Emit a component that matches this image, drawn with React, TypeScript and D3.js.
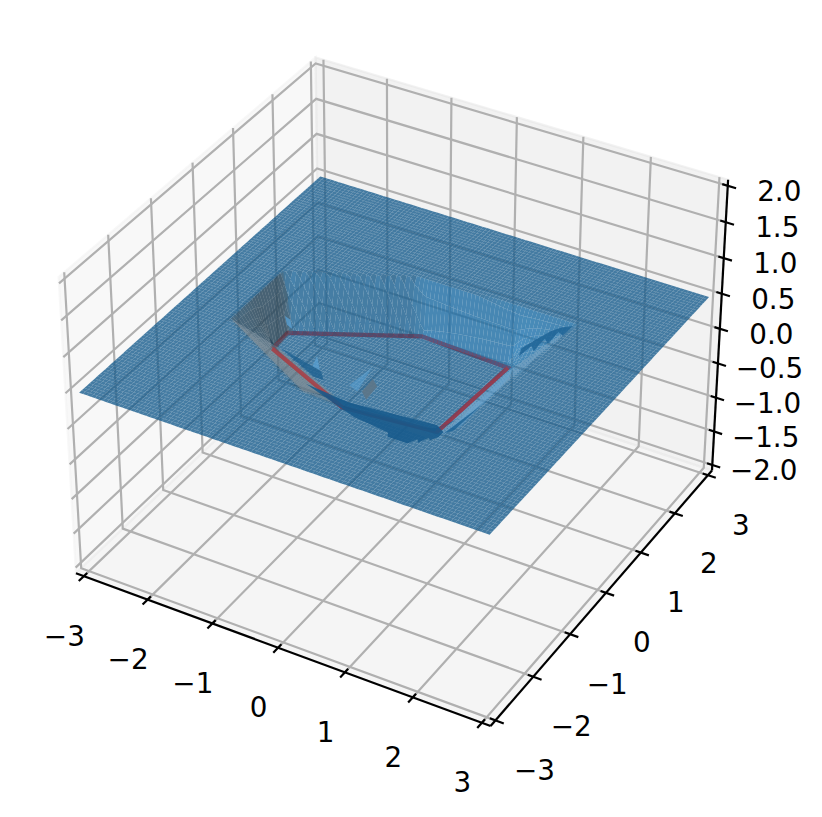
import React from "react";
import * as d3 from "d3";

const W = 822, H = 817;

// axis content
const xTicks = [-3, -2, -1, 0, 1, 2, 3];
const yTicks = [-3, -2, -1, 0, 1, 2, 3];
const zTicks = [-2, -1.5, -1, -0.5, 0, 0.5, 1, 1.5, 2];

// surface: flat sheet level and extents
const sheetLevel = 0.48;
const sheetExtent = [-3, 3];
const meshCells = 100;

// pit outline: rim on the sheet, floor below it
const rimX = [-2.2, -2.2, -0.6, 1.77, 1.48, -0.53];
const rimY = [-0.6, 0.7, 1.46, 1.56, -1.63, -1.56];
const floorX = [-2.03, -2.05, -0.445, 0.91, 0.815, -0.526];
const floorY = [0.12, 0.54, 1.37, 1.3, -0.44, -0.58];
const floorLevel = -0.27;

// overlays, given on the sheet: folded, doubled parts of the surface
const bandX = [-0.59, 0.1, 1.31, 1.46, 1.46, 1.4, 1.36, 1.3, 1.25, 1.19, 0.9, 0.86, 0.31];
const bandY = [-1.38, -1.46, -1.33, -1.42, -1.55, -1.66, -1.62, -1.78, -1.72, -1.86, -1.86, -1.78, -1.7];
const nearStripX = [-1.29, -0.57, -0.43, -0.59];
const nearStripY = [-0.85, -1.04, -1.2, -1.19];
const greyNearX = [-2.2, -1.34, -0.1, -0.54];
const greyNearY = [-0.6, -0.85, -1.44, -1.54];
const greyLeftX = [-2.2, -2.2, -1.36, -1.34];
const greyLeftY = [-0.6, 0.7, -0.43, -0.85];
const teethX = [1.48, 1.51, 1.59, 1.58, 1.67, 1.66, 1.75, 1.76, 1.65, 1.57, 1.49, 1.42];
const teethY = [0.53, 0.82, 0.73, 1.05, 0.97, 1.28, 1.23, 1.5, 1.39, 1.26, 0.99, 0.71];
const wedgeX = [1.48, 1.59, 1.56];
const wedgeY = [-1.44, -0.68, -1.32];
const lightStripX = [1.49, 1.54, 1.6, 1.59];
const lightStripY = [-1.3, 0.3, 0.01, -1.24];

// small light folds inside the pit
const foldAX = [-1.63, -1.52, -1.39, -1.5];
const foldAY = [-0.19, -0.23, -0.4, -0.35];
const foldBX = [-0.79, -0.59, -0.72];
const foldBY = [-0.77, -1.03, -1.0];
const foldCX = [-0.04, 0.07, -0.09];
const foldCY = [-0.64, -1.2, -1.13];
// small grey fold
const foldDX = [0.1, 0.23, 0.26, 0.12];
const foldDY = [-0.86, -0.97, -1.3, -1.17];

// red path and how much each leg shows through the surface
const pathX = [-2.03, -2.05, -0.445, 0.91, 0.815, -0.526, -2.03];
const pathY = [0.12, 0.54, 1.37, 1.3, -0.44, -0.58, 0.12];
const pathZ = [-0.27, -0.27, -0.27, -0.27, -0.27, -0.27, -0.27];
const pathShow = [0.12, 0.12, 0.12, 0.45, 0.1, 0.5];

// matplotlib-style projection
const toRad = Math.PI / 180;
const elev = 35 * toRad, azim = -60 * toRad, dist = 10;
const lim = { x: 3.125, y: 3.125, z: 2.0833 };
const boxK = (1.8294640721620434 * 25) / 24 / Math.hypot(4, 4, 3);
const box = [4 * boxK, 4 * boxK, 3 * boxK];
const w = [Math.cos(elev) * Math.cos(azim), Math.cos(elev) * Math.sin(azim), Math.sin(elev)];
const uN = Math.hypot(w[0], w[1]);
const u = [-w[1] / uN, w[0] / uN, 0];
const v = [w[1] * u[2] - w[2] * u[1], w[2] * u[0] - w[0] * u[2], w[0] * u[1] - w[1] * u[0]];
const dot = (a: number[], b: number[]) => a[0] * b[0] + a[1] * b[1] + a[2] * b[2];
const sxScale = d3.scaleLinear().domain([0, 1]).range([399.5, 399.5 + 4010]);
const syScale = d3.scaleLinear().domain([0, 1]).range([378, 378 - 4010]);

type P3 = [number, number, number];
function project(p: P3) {
  const q = [
    (p[0] / lim.x) * (box[0] / 2),
    (p[1] / lim.y) * (box[1] / 2),
    (p[2] / lim.z) * (box[2] / 2),
  ];
  const d = dist - dot(w, q);
  return { x: sxScale(dot(u, q) / d), y: syScale(dot(v, q) / d), d };
}
const pt = (p: P3) => {
  const r = project(p);
  return `${r.x.toFixed(2)},${r.y.toFixed(2)}`;
};
const line = (ps: P3[]) => "M" + ps.map(pt).join("L");

// surface shading as in mplot3d
const lightDir = [-0.6667, -0.6667, 0.3333];
const base = d3.rgb("#1f77b4");
function shade(a: P3, b: P3, c: P3, e: P3) {
  const s = [c[0] - a[0], c[1] - a[1], c[2] - a[2]];
  const t = [e[0] - b[0], e[1] - b[1], e[2] - b[2]];
  let n = [s[1] * t[2] - s[2] * t[1], s[2] * t[0] - s[0] * t[2], s[0] * t[1] - s[1] * t[0]];
  if (n[2] < 0) n = n.map((k) => -k);
  const len = Math.hypot(n[0], n[1], n[2]) || 1;
  const i = dot(n, lightDir) / len;
  const f = ((i + 1) / 2) * 0.65 + 0.35;
  return `rgb(${base.r * f},${base.g * f},${base.b * f})`;
}

type Cell = { d: string; fill: string; depth: number };
function cell(a: P3, b: P3, c: P3, e: P3): Cell {
  const depth = d3.mean([a, b, c, e].map((p) => project(p).d))!;
  return { d: "M" + [a, b, c, e].map(pt).join("L") + "Z", fill: shade(a, b, c, e), depth };
}

type P2 = [number, number];
const rimPoly = rimX.map((x, i) => [x, rimY[i]] as P2);
const floorPoly = floorX.map((x, i) => [x, floorY[i]] as P2);
function edgeDistance(poly: P2[], p: P2) {
  let best = Infinity;
  poly.forEach((a, i) => {
    const b = poly[(i + 1) % poly.length];
    const dx = b[0] - a[0], dy = b[1] - a[1];
    const t = Math.max(0, Math.min(1, ((p[0] - a[0]) * dx + (p[1] - a[1]) * dy) / (dx * dx + dy * dy)));
    best = Math.min(best, Math.hypot(p[0] - a[0] - t * dx, p[1] - a[1] - t * dy));
  });
  return best;
}
function level(p: P2) {
  if (!d3.polygonContains(rimPoly, p)) return sheetLevel;
  if (d3.polygonContains(floorPoly, p)) return floorLevel;
  const dr = edgeDistance(rimPoly, p), df = edgeDistance(floorPoly, p);
  return sheetLevel + (floorLevel - sheetLevel) * (dr / (dr + df));
}
const mesh = d3.scaleLinear().domain([0, meshCells]).range(sheetExtent);
const levels = d3.range(meshCells + 1).map((i) => d3.range(meshCells + 1).map((j) => level([mesh(i), mesh(j)])));
const cells: Cell[] = [];
for (let i = 0; i < meshCells; i++) {
  for (let j = 0; j < meshCells; j++) {
    const x0 = mesh(i), x1 = mesh(i + 1), y0 = mesh(j), y1 = mesh(j + 1);
    cells.push(cell([x0, y0, levels[i][j]], [x1, y0, levels[i + 1][j]], [x1, y1, levels[i + 1][j + 1]], [x0, y1, levels[i][j + 1]]));
  }
}
cells.sort((a, b) => b.depth - a.depth);

const sheetPath = (xs: number[], ys: number[]) =>
  line(xs.map((x, i) => [x, ys[i], sheetLevel] as P3)) + "Z";

const underPath = [
  { xs: greyNearX, ys: greyNearY, fill: "#8a949a", o: 0.5 },
  { xs: greyLeftX, ys: greyLeftY, fill: "#59646b", o: 0.35 },
  { xs: lightStripX, ys: lightStripY, fill: "#6aa8d4", o: 0.45 },
];
const overPath = [
  { xs: bandX, ys: bandY, fill: "#175a8c", o: 0.88 },
  { xs: nearStripX, ys: nearStripY, fill: "#1c5f8f", o: 0.75 },
  { xs: teethX, ys: teethY, fill: "#1f6496", o: 0.85 },
  { xs: wedgeX, ys: wedgeY, fill: "#1f6496", o: 0.85 },
  { xs: foldAX, ys: foldAY, fill: "#5aa2d6", o: 0.75 },
  { xs: foldBX, ys: foldBY, fill: "#5aa2d6", o: 0.7 },
  { xs: foldCX, ys: foldCY, fill: "#5aa2d6", o: 0.55 },
  { xs: foldDX, ys: foldDY, fill: "#5d7687", o: 0.9 },
];

const X = lim.x, Y = lim.y, Z = lim.z;
const panes = [
  { pts: [[-X, -Y, -Z], [-X, Y, -Z], [-X, Y, Z], [-X, -Y, Z]] as P3[], c: "rgba(242,242,242,0.5)" },
  { pts: [[-X, Y, -Z], [X, Y, -Z], [X, Y, Z], [-X, Y, Z]] as P3[], c: "rgba(230,230,230,0.5)" },
  { pts: [[-X, -Y, -Z], [X, -Y, -Z], [X, Y, -Z], [-X, Y, -Z]] as P3[], c: "rgba(236,236,236,0.5)" },
];

const lw = 2.2;
const grid = "#b0b0b0";
const fontFamily = "'DejaVu Sans', sans-serif";
const fmtZ = (t: number) => t.toFixed(1).replace("-", "\u2212");
const fmtI = (t: number) => String(t).replace("-", "\u2212");
const pathPts = pathX.map((x, i) => [x, pathY[i], pathZ[i]] as P3);

export default function App() {
  return (
    <svg width={W} height={H} style={{ position: "absolute", left: 0, top: 0, background: "#fff" }}>
      {panes.map((p, i) => (
        <path key={i} d={line(p.pts) + "Z"} fill={p.c} stroke={p.c} strokeWidth={lw} />
      ))}
      <g fill="none" stroke={grid} strokeWidth={lw}>
        {xTicks.map((t) => <path key={t} d={line([[t, -Y, -Z], [t, Y, -Z], [t, Y, Z]])} />)}
        {yTicks.map((t) => <path key={t} d={line([[X, t, -Z], [-X, t, -Z], [-X, t, Z]])} />)}
        {zTicks.map((t) => <path key={t} d={line([[X, Y, t], [-X, Y, t], [-X, -Y, t]])} />)}
      </g>
      <path d={line(pathPts)} fill="none" stroke="#d62728" strokeWidth={4.2} />
      <g fillOpacity={0.8}>
        {cells.map((c, i) => <path key={i} d={c.d} fill={c.fill} />)}
      </g>
      {underPath.map((s, i) => (
        <path key={i} d={sheetPath(s.xs, s.ys)} fill={s.fill} fillOpacity={s.o} />
      ))}
      <g fill="none" stroke="#d62728" strokeWidth={4.2}>
        {pathShow.map((o, i) => (
          <path key={i} d={line([pathPts[i], pathPts[i + 1]])} strokeOpacity={o} />
        ))}
      </g>
      {overPath.map((s, i) => (
        <path key={i} d={sheetPath(s.xs, s.ys)} fill={s.fill} fillOpacity={s.o} />
      ))}
      <g fill="none" stroke="#000" strokeWidth={lw}>
        <path d={line([[-X, -Y, -Z], [X, -Y, -Z]])} />
        <path d={line([[X, -Y, -Z], [X, Y, -Z]])} />
        <path d={line([[X, Y, -Z], [X, Y, Z]])} />
        {xTicks.map((t) => <path key={t} d={line([[t, -Y + 0.08, -Z], [t, -Y - 0.12, -Z]])} />)}
        {yTicks.map((t) => <path key={t} d={line([[X - 0.08, t, -Z], [X + 0.12, t, -Z]])} />)}
        {zTicks.map((t) => <path key={t} d={line([[X - 0.08, Y, t], [X + 0.12, Y, t]])} />)}
      </g>
      <g fontFamily={fontFamily} fontSize={27.8} textAnchor="middle" dominantBaseline="central" fill="#000">
        {xTicks.map((t) => {
          const p = project([t, -Y, -Z]);
          return <text key={t} x={p.x - 19.5} y={p.y + 60}>{fmtI(t)}</text>;
        })}
        {yTicks.map((t) => {
          const p = project([X, t, -Z]);
          return <text key={t} x={p.x + 36 - t} y={p.y + 50}>{fmtI(t)}</text>;
        })}
        {zTicks.map((t) => {
          const p = project([X, Y, t]);
          return <text key={t} x={p.x + 51.5} y={p.y + 5.5}>{fmtZ(t)}</text>;
        })}
      </g>
    </svg>
  );
}
